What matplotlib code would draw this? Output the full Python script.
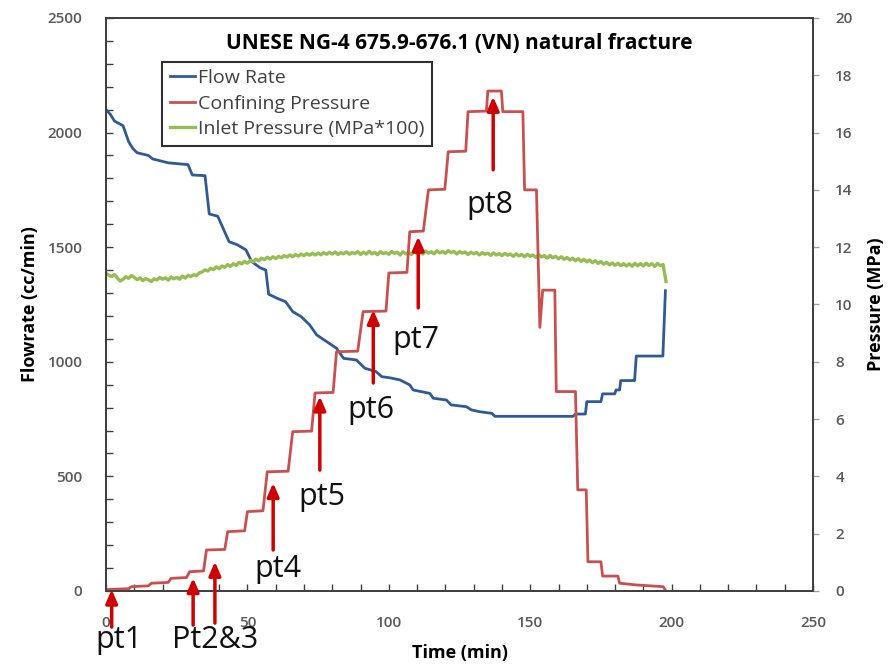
import numpy as np
import matplotlib.pyplot as plt
from matplotlib.ticker import MultipleLocator

plt.rcParams['font.family'] = ['Open Sans', 'DejaVu Sans']

# flow rate (cc/min) - stepped trace
flow_time = [0, 1.5, 3, 4.5, 6, 8, 9.5, 11, 15, 16.5, 22, 29, 30.5, 35, 36.5, 39.5,
             43.5, 46.5, 49.5, 51.5, 54.5, 56.5, 57.5, 60.5, 63.5, 66, 69, 72, 74.5,
             78, 81.5, 84, 88.5, 91.5, 95.5, 97.5, 100.4, 103.9, 107.4, 108.6, 114.5,
             115.7, 120.4, 122, 127.4, 129.2, 132.2, 136.5, 137.5, 165.1, 166, 169.5,
             170, 175, 175.6, 179.9, 180.3, 181.6, 182, 186.9, 187.5, 196.9, 197.8]
flow_rate = [2100, 2080, 2050, 2040, 2030, 1960, 1930, 1912, 1900, 1885, 1868, 1860,
             1815, 1812, 1645, 1635, 1524, 1510, 1488, 1437, 1410, 1400, 1295, 1277,
             1262, 1219, 1197, 1161, 1117, 1088, 1059, 1015, 1008, 972, 957, 935, 930,
             921, 899, 877, 862, 841, 833, 812, 804, 790, 782, 775, 762, 762, 772, 772,
             826, 826, 860, 860, 877, 877, 918, 918, 1025, 1025, 1310]

# confining pressure (MPa)
conf_time = [0, 8, 9, 15, 16, 22, 23, 28.5, 29.5, 34.5, 35.5, 42, 43, 49, 50, 55.5,
             57, 64.4, 66, 72.7, 73.9, 80.3, 81.5, 89, 90.9, 99, 100, 106.4, 107.4,
             112.2, 114, 119.8, 121, 127.2, 128, 134.5, 135, 139.8, 140.3, 147.4, 148,
             152.2, 153.4, 154.4, 158.7, 159.2, 166, 166.8, 169.8, 170.4, 175, 175.6,
             181, 181.6, 187.5, 197, 198]
conf_pressure = [0.05, 0.08, 0.15, 0.18, 0.27, 0.3, 0.44, 0.47, 0.67, 0.7, 1.43, 1.45,
                 2.07, 2.1, 2.77, 2.8, 4.16, 4.18, 5.56, 5.58, 6.91, 6.93, 8.35, 8.37,
                 9.75, 9.77, 11.1, 11.12, 12.54, 12.56, 14.0, 14.02, 15.33, 15.35, 16.73,
                 16.75, 17.45, 17.45, 16.73, 16.73, 14.0, 14.0, 9.2, 10.5, 10.5, 6.96,
                 6.96, 3.53, 3.53, 1.02, 1.02, 0.52, 0.52, 0.27, 0.21, 0.15, 0.0]

# inlet pressure (MPa*100), one reading per minute
inlet_time = np.arange(199)
inlet_pressure = [
    1386, 1378, 1372, 1380, 1366, 1352, 1360, 1371, 1364, 1376,
    1368, 1358, 1366, 1354, 1363, 1358, 1350, 1362, 1357, 1368,
    1360, 1366, 1356, 1370, 1362, 1368, 1360, 1374, 1365, 1377,
    1372, 1380, 1376, 1388, 1392, 1401, 1396, 1408, 1402, 1414,
    1406, 1418, 1412, 1424, 1416, 1428, 1420, 1434, 1427, 1438,
    1430, 1442, 1436, 1448, 1440, 1452, 1446, 1456, 1448, 1458,
    1450, 1460, 1454, 1463, 1457, 1466, 1458, 1468, 1461, 1470,
    1463, 1472, 1465, 1473, 1466, 1474, 1467, 1476, 1469, 1478,
    1470, 1479, 1468, 1476, 1471, 1480, 1469, 1477, 1472, 1481,
    1468, 1478, 1470, 1482, 1471, 1477, 1467, 1480, 1472, 1476,
    1469, 1481, 1473, 1478, 1466, 1480, 1471, 1477, 1468, 1482,
    1472, 1479, 1470, 1483, 1474, 1480, 1471, 1484, 1475, 1481,
    1473, 1485, 1476, 1482, 1470, 1481, 1474, 1479, 1468, 1478,
    1471, 1477, 1466, 1476, 1469, 1474, 1464, 1475, 1466, 1472,
    1463, 1473, 1465, 1470, 1460, 1471, 1462, 1468, 1458, 1469,
    1460, 1466, 1455, 1467, 1457, 1463, 1452, 1464, 1454, 1460,
    1449, 1458, 1447, 1455, 1444, 1452, 1441, 1450, 1438, 1447,
    1436, 1444, 1432, 1441, 1429, 1437, 1426, 1434, 1423, 1431,
    1421, 1430, 1419, 1428, 1418, 1427, 1417, 1429, 1419, 1428,
    1418, 1430, 1420, 1428, 1416, 1429, 1419, 1424, 1350]

# sample points marked with arrows (pressure axis)
arrow_time = [2, 30.8, 38.5, 59.1, 75.6, 94.5, 110.4, 136.9]
arrow_tip = [0.05, 0.45, 1.02, 3.77, 6.79, 9.81, 12.37, 17.25]
arrow_tail = [-1.26, -1.19, -1.12, 1.43, 4.22, 7.26, 9.88, 14.7]

point_labels = ['pt1', 'Pt2&3', 'pt4', 'pt5', 'pt6', 'pt7', 'pt8']
label_time = [4.6, 38.5, 60.8, 76.5, 93.6, 109.6, 135.6]
label_pressure = [-1.99, -1.99, 0.48, 3.0, 6.03, 8.47, 13.18]

blue = '#2F5A96'
red = '#C9504E'
green = '#95BD52'
grey = '#595959'

fig = plt.figure(figsize=(8.91, 6.68), dpi=100)
ax1 = fig.add_axes([0.119, 0.1153, 0.7935, 0.8578])
ax2 = ax1.twinx()

l1, = ax1.plot(flow_time, flow_rate, color=blue, lw=2, label='Flow Rate')
l3, = ax1.plot(inlet_time, inlet_pressure, color=green, lw=2.4, label='Inlet Pressure (MPa*100)')
l2, = ax2.plot(conf_time, conf_pressure, color=red, lw=2, label='Confining Pressure')

ax1.set_xlim(0, 250)
ax1.set_ylim(0, 2500)
ax2.set_ylim(0, 20)

ax1.xaxis.set_major_locator(MultipleLocator(50))
ax1.xaxis.set_minor_locator(MultipleLocator(10))
ax1.yaxis.set_major_locator(MultipleLocator(500))
ax1.yaxis.set_minor_locator(MultipleLocator(100))
ax2.yaxis.set_major_locator(MultipleLocator(2))

ax1.tick_params(axis='both', which='both', direction='in', length=5, width=1, color='#404040',
                labelsize=11, labelcolor=grey)
ax1.tick_params(axis='y', which='both', right=False, pad=17)
ax1.tick_params(axis='x', pad=18)
ax2.tick_params(axis='y', direction='out', length=4, width=1, color='#a0a0a0',
                labelsize=11, labelcolor=grey, pad=12)
for lab in ax1.get_xticklabels() + ax1.get_yticklabels() + ax2.get_yticklabels():
    lab.set_fontweight('semibold')

for ax in (ax1, ax2):
    for sp in ax.spines.values():
        sp.set_color('#404040')
        sp.set_linewidth(1.3)

ax1.set_xlabel('Time (min)', fontsize=13, fontweight='bold', labelpad=10)
ax1.set_ylabel('Flowrate (cc/min)', fontsize=13, fontweight='bold', labelpad=6)
ax2.set_ylabel('Pressure (MPa)', fontsize=13, fontweight='bold', labelpad=10)
ax1.set_title('UNESE NG-4 675.9-676.1 (VN) natural fracture', fontsize=15,
              fontweight='bold', y=0.932)

leg = ax2.legend([l1, l2, l3], [l1.get_label(), l2.get_label(), l3.get_label()],
                 loc='upper left', bbox_to_anchor=(0.079, 0.924), borderaxespad=0,
                 fancybox=False, framealpha=1, edgecolor='#303030', fontsize=14,
                 handlelength=1.3, handletextpad=0.15, labelspacing=0.38,
                 borderpad=0.4)
leg.get_frame().set_linewidth(1.5)
for t in leg.get_texts():
    t.set_color('#404040')

for t, tip, tail in zip(arrow_time, arrow_tip, arrow_tail):
    ax2.annotate('', xy=(t, tip), xytext=(t, tail), annotation_clip=False,
                 arrowprops=dict(arrowstyle='-|>,head_length=0.8,head_width=0.35',
                                 color='#D00000', lw=2.5, shrinkA=0, shrinkB=0))

for name, t, p in zip(point_labels, label_time, label_pressure):
    ax2.text(t, p, name, fontsize=22, ha='center', va='baseline', color='#111111',
             clip_on=False)

fig.savefig('out.png', dpi=100)
